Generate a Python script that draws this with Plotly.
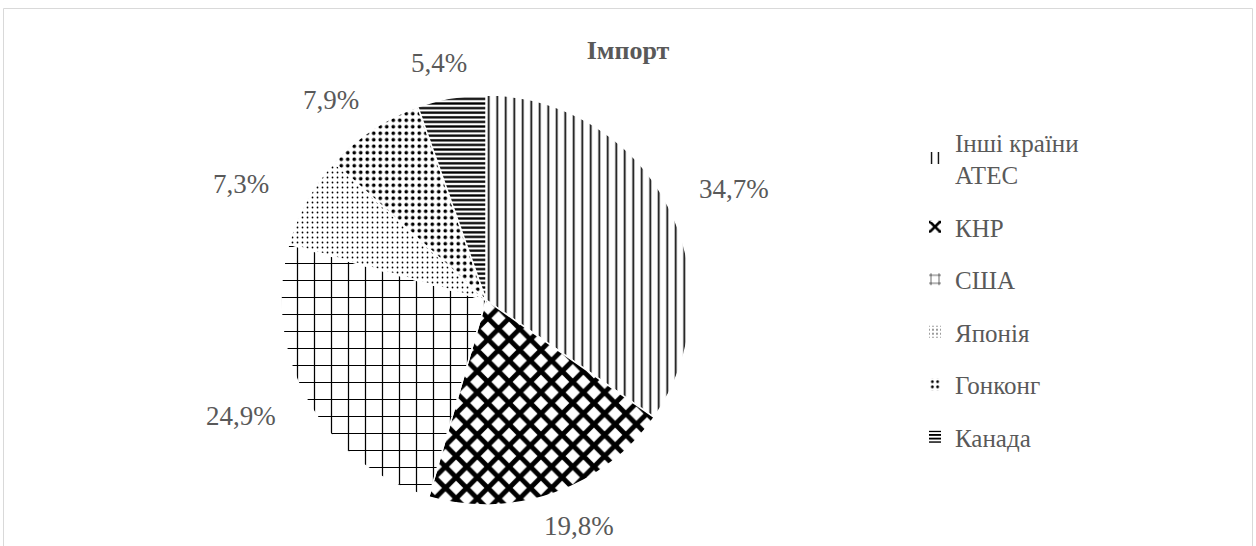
import math
import plotly.graph_objects as go

# ---- data ----
categories = ["Інші країни АТЕС", "КНР", "США", "Японія", "Гонконг", "Канада"]
legend_names = ["Інші країни<br>АТЕС", "КНР", "США", "Японія", "Гонконг", "Канада"]
shares = [34.7, 19.8, 24.9, 7.3, 7.9, 5.4]
title_text = "Імпорт"

# ---- styles ----
W, H = 1256, 546
FONT = "Liberation Serif"
GREY = "#595959"
patterns = [
    dict(shape="|", size=8.5, solidity=0.2),
    dict(shape="x", size=15, solidity=0.55),
    dict(shape="+", size=17, solidity=0.14),
    dict(shape=".", size=5, solidity=0.1),
    dict(shape=".", size=6.5, solidity=0.25),
    dict(shape="-", size=4.6, solidity=0.5),
]
for p in patterns:
    p.update(fgcolor="black", bgcolor="white", fillmode="replace")

# pie geometry in pixels
cx, cy, R = 486, 300, 205
dom_x = [(cx - R) / W, (cx + R) / W]
dom_y = [(H - cy - R) / H, (H - cy + R) / H]

fig = go.Figure()
fig.add_trace(go.Pie(
    labels=categories,
    values=shares,
    sort=False,
    direction="clockwise",
    rotation=0,
    textinfo="none",
    hoverinfo="label+percent",
    showlegend=False,
    marker=dict(
        colors=["white"] * len(shares),
        pattern=dict(
            shape=[p["shape"] for p in patterns],
            size=[p["size"] for p in patterns],
            solidity=[p["solidity"] for p in patterns],
            fgcolor="black",
            bgcolor="white",
            fillmode="replace",
        ),
        line=dict(color="white", width=1.5),
    ),
    domain=dict(x=dom_x, y=dom_y),
))

# legend entries via empty bar traces (patterned symbols)
for i, (name, p) in enumerate(zip(legend_names, patterns)):
    fig.add_trace(go.Bar(
        x=[None], y=[None], name=name, legendgroup=f"g{i}",
        marker=dict(color="white", pattern=p, line=dict(width=0)),
        showlegend=True, hoverinfo="skip",
    ))

# data labels outside the slices, positioned from the slice mid-angles
total = sum(shares)
cum = 0.0
gap, boxw, boxh = 20, 110, 30
for v in shares:
    mid = (cum + v / 2) / total * 2 * math.pi
    cum += v
    s, c = math.sin(mid), math.cos(mid)
    px = cx + (R + gap) * s + s * boxw / 2
    py = cy - (R + gap) * c - c * boxh / 2
    fig.add_annotation(
        x=px / W, y=1 - py / H, xref="paper", yref="paper",
        text=f"{v:.1f}%".replace(".", ","), showarrow=False,
        xanchor="center", yanchor="middle",
        font=dict(family=FONT, size=27, color=GREY),
    )

# chart frame
fig.add_shape(type="rect", xref="paper", yref="paper",
              x0=3.5 / W, x1=1252.5 / W, y0=-0.1, y1=1 - 8.5 / H,
              line=dict(color="#d9d9d9", width=1), fillcolor="rgba(0,0,0,0)")

fig.update_layout(
    width=W, height=H, autosize=False,
    margin=dict(l=0, r=0, t=0, b=0),
    paper_bgcolor="white", plot_bgcolor="white",
    title=dict(text=f"<b>{title_text}</b>", x=0.5, xanchor="center",
               y=1 - 50 / H, yanchor="middle", xref="paper", yref="paper",
               font=dict(family=FONT, size=26, color=GREY)),
    xaxis=dict(visible=False, domain=[0.99, 1.0]),
    yaxis=dict(visible=False, domain=[0.99, 1.0]),
    showlegend=True,
    legend=dict(x=915 / W, xanchor="left", y=1 - 119 / H, yanchor="top",
                font=dict(family=FONT, size=25, color=GREY),
                tracegroupgap=17, itemwidth=30,
                bgcolor="rgba(0,0,0,0)"),
)

fig.write_html("out.html", config={"displayModeBar": False},
               post_script="document.body.style.margin='0';")
